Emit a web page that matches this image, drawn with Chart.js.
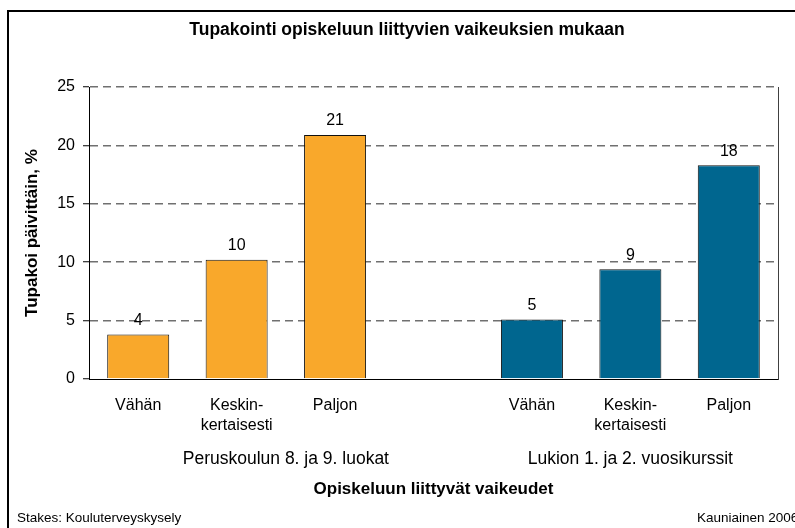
<!DOCTYPE html>
<html>
<head>
<meta charset="utf-8">
<script src="https://cdn.jsdelivr.net/npm/chart.js@4/dist/chart.umd.min.js"></script>
<style>
  html, body { margin: 0; padding: 0; background: #fff; overflow: hidden; }
  #frame { position: absolute; left: 7px; top: 10px; width: 1000px; height: 1000px;
           border-left: 2px solid #000; border-top: 2px solid #000; }
  #chart { position: absolute; left: 0; top: 0; }
</style>
</head>
<body>
<div id="frame"></div>
<canvas id="chart" width="795" height="528"></canvas>
<script>
// Tiedot
var categories = ['Vähän', ['Keskin-', 'kertaisesti'], 'Paljon', '', 'Vähän', ['Keskin-', 'kertaisesti'], 'Paljon'];
var peruskouluValues = [3.8, 10.2, 20.9, null, null, null, null];
var lukioValues = [null, null, null, null, 5.1, 9.4, 18.3];
var yTicks = [0, 5, 10, 15, 20, 25];
var groupLabels = ['Peruskoulun 8. ja 9. luokat', 'Lukion 1. ja 2. vuosikurssit'];
var groupCenters = [1.5, 5];

var chartTitle = 'Tupakointi opiskeluun liittyvien vaikeuksien mukaan';
var yTitle = 'Tupakoi päivittäin, %';
var xTitle = 'Opiskeluun liittyvät vaikeudet';
var sourceText = 'Stakes: Kouluterveyskysely';
var placeText = 'Kauniainen 2006';

Chart.defaults.font.family = '"Liberation Sans", Arial, sans-serif';
Chart.defaults.color = '#000';

// arvot pylväiden päälle
var valueLabels = {
    id: 'valueLabels',
    afterDatasetsDraw: function (chart) {
        var ctx = chart.ctx;
        ctx.save();
        ctx.font = '16px "Liberation Sans", Arial, sans-serif';
        ctx.fillStyle = '#000';
        ctx.textAlign = 'center';
        ctx.textBaseline = 'middle';
        chart.data.datasets.forEach(function (ds, i) {
            chart.getDatasetMeta(i).data.forEach(function (bar, j) {
                if (ds.data[j] == null) return;
                ctx.fillText(String(Math.round(ds.data[j])), bar.x, bar.y - 14);
            });
        });
        ctx.restore();
    }
};

// lähde alareunaan
var footer = {
    id: 'footer',
    afterDraw: function (chart) {
        var ctx = chart.ctx;
        ctx.save();
        ctx.font = '13.5px "Liberation Sans", Arial, sans-serif';
        ctx.fillStyle = '#000';
        ctx.textBaseline = 'middle';
        ctx.textAlign = 'left';
        ctx.fillText(sourceText, 17, 518);
        ctx.fillText(placeText, 697, 518);
        ctx.restore();
    }
};

var barChart = new Chart(document.getElementById('chart').getContext('2d'), {
    type: 'bar',
    data: {
        labels: categories,
        datasets: [{
            label: 'Peruskoulu',
            data: peruskouluValues,
            backgroundColor: '#F9A82B',
            borderColor: '#111',
            borderWidth: 1,
            grouped: false,
            barPercentage: 0.63,
            categoryPercentage: 1
        }, {
            label: 'Lukio',
            data: lukioValues,
            backgroundColor: '#00668F',
            borderColor: '#111',
            borderWidth: 1,
            grouped: false,
            barPercentage: 0.63,
            categoryPercentage: 1
        }]
    },
    options: {
        responsive: false,
        animation: false,
        layout: { padding: { left: 20, right: 1, top: 0, bottom: 23 } },
        plugins: {
            legend: { display: false },
            tooltip: { enabled: false },
            title: {
                display: true,
                text: chartTitle,
                color: '#000',
                font: { size: 17.5, weight: 'bold' },
                padding: { top: 20, bottom: 46 }
            }
        },
        scales: {
            x: {
                type: 'category',
                position: 'bottom',
                offset: true,
                grid: { display: false, drawTicks: false },
                border: { display: true, color: '#000', width: 1 },
                ticks: { font: { size: 16, lineHeight: 1.25 }, padding: 17, maxRotation: 0, autoSkip: false },
                afterFit: function (s) { s.height = 64; }
            },
            x2: {
                type: 'linear',
                position: 'bottom',
                min: -0.5,
                max: 6.5,
                offset: false,
                afterBuildTicks: function (s) { s.ticks = groupCenters.map(function (v) { return { value: v }; }); },
                grid: { display: false, drawTicks: false },
                border: { display: false },
                ticks: {
                    font: { size: 17.5 },
                    padding: 6,
                    maxRotation: 0,
                    autoSkip: false,
                    callback: function (v, i) { return groupLabels[i]; }
                },
                title: {
                    display: true,
                    text: xTitle,
                    font: { size: 17, weight: 'bold' },
                    padding: { top: 0, bottom: 5 }
                },
                afterFit: function (s) { s.height = 62; }
            },
            y: {
                min: 0,
                max: 25,
                afterBuildTicks: function (s) { s.ticks = yTicks.map(function (v) { return { value: v }; }); },
                grid: {
                    color: function (c) { return c.tick && c.tick.value === 0 ? 'rgba(0,0,0,0)' : '#707070'; },
                    lineWidth: 1.5,
                    tickColor: '#000',
                    tickLength: 6,
                    tickWidth: 1,
                    tickBorderDash: []
                },
                border: { display: true, color: '#000', width: 1, dash: [8, 5] },
                ticks: { font: { size: 16 }, padding: 8 },
                title: {
                    display: true,
                    text: yTitle,
                    font: { size: 17, weight: 'bold' },
                    padding: { top: 2, bottom: 0 }
                },
                afterFit: function (s) { s.width = 69; }
            },
            y2: {
                position: 'right',
                grid: { display: false, drawTicks: false },
                border: { display: true, color: '#404040', width: 1 },
                ticks: { display: false },
                afterFit: function (s) { s.width = 16; }
            }
        }
    },
    plugins: [valueLabels, footer]
});
</script>
</body>
</html>
